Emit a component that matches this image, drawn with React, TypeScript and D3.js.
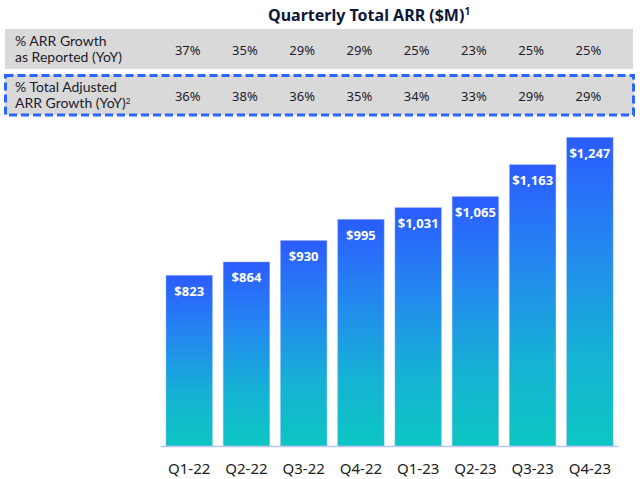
import React from "react";
import * as d3 from "d3";

const categories = ["Q1-22", "Q2-22", "Q3-22", "Q4-22", "Q1-23", "Q2-23", "Q3-23", "Q4-23"];
const arrValues = [823, 864, 930, 995, 1031, 1065, 1163, 1247];
const valueLabels = ["$823", "$864", "$930", "$995", "$1,031", "$1,065", "$1,163", "$1,247"];
const growthReported = ["37%", "35%", "29%", "29%", "25%", "23%", "25%", "25%"];
const growthAdjusted = ["36%", "38%", "36%", "35%", "34%", "33%", "29%", "29%"];
const titleText = "Quarterly Total ARR ($M)";
const row1Label = ["% ARR Growth", "as Reported (YoY)"];
const row2Label = ["% Total Adjusted", "ARR Growth (YoY)"];

const W = 640;
const H = 479;
const FONT = "'Noto Sans', 'Open Sans', sans-serif";
const LABEL_FONT = "Lato, 'Noto Sans', sans-serif";

export default function App() {
  const x = d3
    .scaleBand<string>()
    .domain(categories)
    .range([160.6, 618.5])
    .paddingInner(0.188)
    .paddingOuter(0.094);
  const y = d3.scaleLinear().domain([298.5, 1247]).range([446, 137.3]);
  const bw = x.bandwidth();

  return (
    <svg
      width={W}
      height={H}
      style={{ position: "absolute", left: 0, top: 0, background: "#fff" }}
      fontFamily={FONT}
    >
      <defs>
        <linearGradient id="barGrad" x1="0" y1="0" x2="0" y2="1">
          <stop offset="0%" stopColor="#2b5cff" />
          <stop offset="35%" stopColor="#2487f0" />
          <stop offset="70%" stopColor="#15b2d4" />
          <stop offset="100%" stopColor="#0cc6c2" />
        </linearGradient>
      </defs>

      {/* Title */}
      <text x={268} y={21} fontSize={16} fontWeight={700} fill="#0e1838">
        {titleText}
        <tspan fontSize={10} dy={-6}>1</tspan>
      </text>

      {/* Row 1 */}
      <rect x={5} y={29} width={628} height={40} fill="#d9d9d9" />
      <text x={15} y={45.5} fontSize={14} fontFamily={LABEL_FONT} fill="#1c1c2c">{row1Label[0]}</text>
      <text x={15} y={61.5} fontSize={14} fontFamily={LABEL_FONT} fill="#1c1c2c">{row1Label[1]}</text>
      {growthReported.map((g, i) => (
        <text
          key={"r" + i}
          x={(x(categories[i]) as number) + bw / 2 - 1.5}
          y={55}
          fontSize={13}
          textAnchor="middle"
          fill="#1c1c2c"
        >
          {g}
        </text>
      ))}

      {/* Row 2 */}
      <rect x={5} y={75} width={629} height={40} fill="#d9d9d9" />
      <rect
        x={5.5}
        y={75.5}
        width={628}
        height={39.5}
        fill="none"
        stroke="#2a66ff"
        strokeWidth={3}
        strokeDasharray="8 4"
      />
      <text x={15} y={91.5} fontSize={14} fontFamily={LABEL_FONT} fill="#1c1c2c">{row2Label[0]}</text>
      <text x={15} y={107.5} fontSize={14} fontFamily={LABEL_FONT} fill="#1c1c2c">
        {row2Label[1]}
        <tspan fontSize={8} dy={-4}>2</tspan>
      </text>
      {growthAdjusted.map((g, i) => (
        <text
          key={"a" + i}
          x={(x(categories[i]) as number) + bw / 2 - 1.5}
          y={100.5}
          fontSize={13}
          textAnchor="middle"
          fill="#1c1c2c"
        >
          {g}
        </text>
      ))}

      {/* Bars */}
      {arrValues.map((v, i) => {
        const bx = x(categories[i]) as number;
        const top = y(v);
        return (
          <g key={"b" + i}>
            <rect
              x={bx}
              y={top}
              width={bw}
              height={y.range()[0] - top}
              fill="url(#barGrad)"
              stroke="#9fb8ff"
              strokeOpacity={0.5}
              strokeWidth={0.8}
            />
            <text
              x={bx + bw / 2}
              y={top + 20.5}
              fontSize={13}
              fontWeight={700}
              textAnchor="middle"
              fill="#ffffff"
            >
              {valueLabels[i]}
            </text>
          </g>
        );
      })}

      {/* Axis */}
      <line x1={160.6} x2={618.5} y1={446.5} y2={446.5} stroke="#b9c8f2" strokeWidth={1.5} />
      {categories.map((c) => (
        <text
          key={c}
          x={(x(c) as number) + bw / 2}
          y={474}
          fontSize={15}
          textAnchor="middle"
          fill="#222"
        >
          {c}
        </text>
      ))}
    </svg>
  );
}
